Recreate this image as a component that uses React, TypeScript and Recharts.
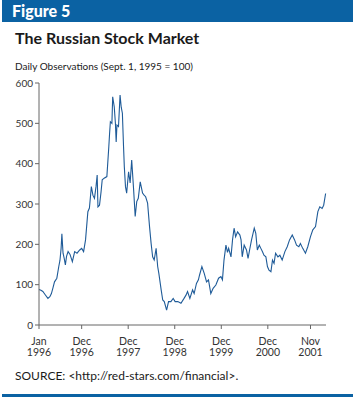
import React from "react";
import { Line, LineChart, XAxis, YAxis } from "recharts";

// months since Jan 1996 (0 = Jan 1996)
const monthIndex = [
  0, 0.5, 1, 1.6, 2.3, 2.8, 3.2, 3.6, 4.0, 4.6, 5.1, 5.4, 5.7, 5.9, 6.2, 6.5, 6.8, 7.1, 7.5, 8.0,
  8.6, 9.2, 9.8, 10.5, 11.0, 11.5, 12.0, 12.6, 13.0, 13.5, 13.9, 14.3, 14.7, 15.0, 15.2, 15.6, 16.0,
  16.3, 16.8, 17.5, 18.0, 18.2, 18.4, 18.8, 19.0, 19.4, 19.7, 19.9, 20.1, 20.5, 20.9, 21.2, 21.5,
  21.8, 22.0, 22.3, 22.6, 23.1, 23.5, 23.9, 24.4, 24.8, 25.2, 25.6, 26.1, 26.7, 27.1, 27.5, 28.0,
  28.5, 28.9, 29.3, 29.7, 30.2, 30.6, 30.9, 31.5, 31.9, 32.3, 32.9, 33.4, 34.0, 34.6, 35.1, 35.8,
  36.6, 37.4, 37.9, 38.3, 38.9, 39.6, 40.0, 40.6, 41.1, 41.4, 42.0, 42.6, 43.2, 43.7, 44.3, 44.9,
  45.6, 46.3, 46.9, 47.3, 47.7, 48.2, 48.6, 48.9, 49.5, 49.9, 50.3, 50.7, 51.2, 51.8, 52.1, 52.4,
  52.9, 53.5, 53.9, 54.3, 54.8, 55.5, 55.9, 56.3, 56.8, 57.2, 57.6, 58.0, 58.5, 58.9, 59.3, 59.8,
  60.2, 60.6, 61.0, 61.6, 62.1, 62.7, 63.4, 64.0, 64.6, 65.3, 65.9, 66.4, 67.0, 67.4, 68.0, 68.7,
  69.3, 70.0, 70.6, 71.3, 71.9, 72.4, 73.0, 73.4, 73.9,
];

// index level, Sept. 1, 1995 = 100
const indexLevel = [
  88, 86, 83, 75, 66, 70, 78, 92, 107, 116, 145, 160, 190, 226, 178, 165, 149, 170, 182, 175,
  157, 182, 178, 186, 190, 182, 211, 281, 290, 343, 322, 314, 343, 372, 293, 297, 330,
  360, 364, 368, 442, 475, 504, 500, 566, 541, 500, 454, 496, 492, 570, 540, 525,
  442, 392, 343, 327, 380, 352, 409, 335, 269, 306, 314, 355, 327, 322, 318, 302,
  244, 203, 169, 161, 190, 145, 128, 87, 62, 58, 37, 58, 58, 66, 58, 58,
  54, 66, 74, 83, 66, 87, 78, 103, 112, 124, 145, 128, 107, 112, 78, 91,
  99, 116, 120, 112, 161, 198, 180, 190, 169, 211, 240, 219, 231, 223, 211, 169,
  198, 186, 165, 186, 211, 240, 227, 186, 198, 190, 182, 173, 169, 145, 136, 132,
  161, 153, 178, 169, 173, 161, 182, 194, 211, 223, 211, 198, 194, 202, 190, 178,
  194, 219, 236, 244, 281, 293, 289, 297, 326,
];

const xTicks = [0, 11, 23, 35, 47, 59, 70];
const xTickMonths = ["Jan", "Dec", "Dec", "Dec", "Dec", "Dec", "Nov"];
const xTickYears = ["1996", "1996", "1997", "1998", "1999", "2000", "2001"];
const yTicks = [0, 100, 200, 300, 400, 500, 600];

const data = monthIndex.map((m, i) => ({ m, v: indexLevel[i] }));

const FONT = "Lato, 'Open Sans', sans-serif";
const BLUE = "#0b62a3";

function XTick({ x, y, payload }: any) {
  const i = xTicks.indexOf(payload.value);
  return (
    <g transform={`translate(${x},${y})`}>
      <text x={0} y={14} textAnchor="middle" fontSize={10.5} fill="#333" fontFamily={FONT}>
        {xTickMonths[i]}
      </text>
      <text x={0} y={25} textAnchor="middle" fontSize={10.5} fill="#333" fontFamily={FONT}>
        {xTickYears[i]}
      </text>
    </g>
  );
}

export default function App() {
  return (
    <div
      style={{
        position: "absolute",
        left: 0,
        top: 0,
        width: 356,
        height: 400,
        background: "#fff",
        fontFamily: FONT,
        color: "#1a1a1a",
      }}
    >
      <div
        style={{
          position: "absolute",
          left: 2,
          top: 0,
          width: 351,
          height: 22,
          background: BLUE,
        }}
      />
      <div
        style={{
          position: "absolute",
          left: 12,
          top: 1,
          fontSize: 16,
          fontWeight: 900,
          color: "#fff",
          lineHeight: "20px",
        }}
      >
        Figure 5
      </div>
      <div
        style={{
          position: "absolute",
          left: 15,
          top: 30,
          fontSize: 16,
          fontWeight: 700,
          lineHeight: "16px",
        }}
      >
        The Russian Stock Market
      </div>
      <div style={{ position: "absolute", left: 15, top: 60, fontSize: 10, lineHeight: "12px" }}>
        Daily Observations (Sept. 1, 1995 = 100)
      </div>
      <div style={{ position: "absolute", left: 0, top: 0 }}>
        <LineChart
          width={356}
          height={400}
          data={data}
          margin={{ top: 83, right: 30, bottom: 45, left: 0 }}
        >
          <XAxis
            dataKey="m"
            type="number"
            domain={[0, 74]}
            ticks={xTicks}
            tick={<XTick />}
            stroke="#666"
            tickSize={4}
            height={30}
          />
          <YAxis
            type="number"
            domain={[0, 600]}
            ticks={yTicks}
            width={39}
            stroke="#666"
            tickSize={4}
            tick={{ fontSize: 10, fill: "#333", fontFamily: FONT }}
          />
          <Line
            type="linear"
            dataKey="v"
            stroke="#1f5b98"
            strokeWidth={1.1}
            dot={false}
            isAnimationActive={false}
          />
        </LineChart>
      </div>
      <div style={{ position: "absolute", left: 15, top: 369, fontSize: 12, lineHeight: "14px" }}>
        SOURCE: &lt;http://red-stars.com/financial&gt;.
      </div>
      <div
        style={{
          position: "absolute",
          left: 2,
          top: 394,
          width: 351,
          height: 3,
          background: BLUE,
        }}
      />
    </div>
  );
}
